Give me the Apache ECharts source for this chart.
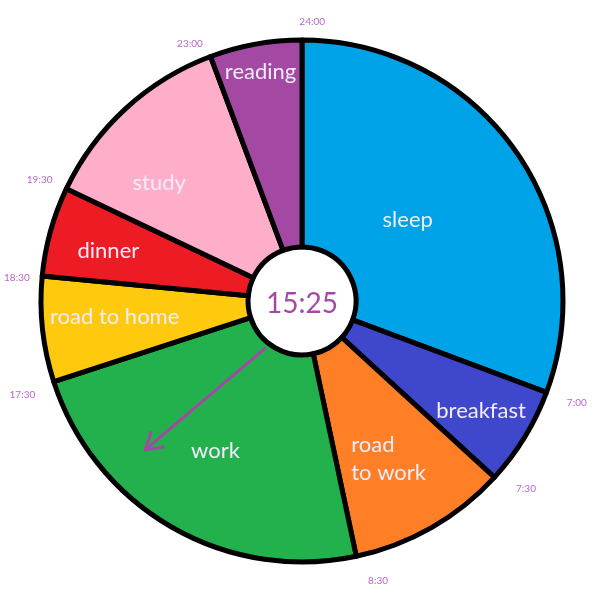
<!DOCTYPE html>
<html><head><meta charset="utf-8">
<script src="https://cdn.jsdelivr.net/npm/echarts@6/dist/echarts.min.js"></script>
<style>html,body{margin:0;padding:0;background:#fff}#c{width:600px;height:601px}</style>
</head><body><div id="c"></div>
<script>
// ---- data ----
const activities = ['sleep', 'breakfast', 'road\nto work', 'work', 'road to home', 'dinner', 'study', 'reading'];
const sliceDegrees = [110.5, 22, 35.5, 84, 23.5, 20, 44, 20.5];
const boundaryLabels = ['7:00', '7:30', '8:30', '17:30', '18:30', '19:30', '23:00', '24:00'];
const currentTime = '15:25';
const handFrom = [60, 218];   // [radius px, angle deg]
const handTo = [216, 226.5];

// ---- styles / layout ----
const sliceColors = ['#00a2e8', '#3f48cc', '#ff7f27', '#22b14c', '#ffc90e', '#ed1c24', '#ffaec9', '#a349a4'];
const labelRadius = [133, 210, 180, 173, 188, 200, 185, 233];
const labelShift = [-2.6, 0, 1, 0, 1.4, -1, -8, 0];
const tickRadius = [293, 292, 290, 295, 286, 289, 281, 279];
const tickShift = [-0.2, -2.6, -3.2, -0.6, -0.9, -0.7, -3, 2.1];
const CX = 302, CY = 301, R = 264, POLAR_R = 300;
const PURPLE = '#a349a4';

const cum = [];
let acc = 0;
sliceDegrees.forEach(v => { cum.push(acc); acc += v; });
const boundaryAngles = sliceDegrees.map((v, i) => cum[i] + v);

const chart = echarts.init(document.getElementById('c'), null, {renderer: 'canvas'});
chart.setOption({
  animation: false,
  backgroundColor: '#fff',
  polar: {center: [CX, CY], radius: POLAR_R},
  angleAxis: {type: 'value', min: 0, max: 360, startAngle: 90, clockwise: true, show: false},
  radiusAxis: {type: 'value', min: 0, max: POLAR_R, show: false},
  graphic: [{
    type: 'text', x: CX, y: CY + 3,
    style: {text: currentTime, fill: PURPLE, font: '28px Lato', align: 'center', verticalAlign: 'middle'},
    z: 100
  }],
  series: [
    {
      type: 'pie',
      center: [CX, CY],
      radius: [54, R - 3],
      startAngle: 90,
      clockwise: true,
      silent: true,
      data: activities.map((n, i) => ({name: n, value: sliceDegrees[i], itemStyle: {color: sliceColors[i]}})),
      itemStyle: {borderColor: '#000', borderWidth: 5},
      label: {show: true, position: 'inside', color: '#f2ecfa', fontFamily: 'Lato', fontSize: 22, lineHeight: 28, formatter: '{b}'},
      labelLine: {show: false},
      labelLayout: function (p) {
        const i = p.dataIndex;
        const mid = cum[i] + sliceDegrees[i] / 2 + labelShift[i];
        const rad = mid * Math.PI / 180;
        const x = CX + labelRadius[i] * Math.sin(rad);
        const y = CY - labelRadius[i] * Math.cos(rad);
        return {x: x - p.labelRect.width / 2, y: y, align: 'left', verticalAlign: 'middle'};
      },
      emphasis: {disabled: true}
    },
    {
      type: 'scatter',
      coordinateSystem: 'polar',
      symbolSize: 1,
      itemStyle: {color: 'rgba(0,0,0,0)'},
      silent: true,
      clip: false,
      data: boundaryAngles.map((a, i) => [tickRadius[i], a + tickShift[i]]),
      label: {
        show: true, position: 'inside', color: '#a33fb8', fontFamily: 'Lato', fontSize: 10,
        formatter: p => boundaryLabels[p.dataIndex]
      }
    },
    {
      type: 'custom',
      coordinateSystem: 'polar',
      silent: true,
      z: 10,
      data: [[handFrom[0], handFrom[1], handTo[0], handTo[1]]],
      renderItem: function (params, api) {
        const p0 = api.coord([api.value(0), api.value(1)]);
        const p1 = api.coord([api.value(2), api.value(3)]);
        const ang = Math.atan2(p1[1] - p0[1], p1[0] - p0[0]);
        const L = 18, s = 0.55;
        const a1 = [p1[0] - L * Math.cos(ang - s), p1[1] - L * Math.sin(ang - s)];
        const a2 = [p1[0] - L * Math.cos(ang + s), p1[1] - L * Math.sin(ang + s)];
        const st = {stroke: PURPLE, lineWidth: 3, fill: null, lineCap: 'round', lineJoin: 'round'};
        return {type: 'group', children: [
          {type: 'line', shape: {x1: p0[0], y1: p0[1], x2: p1[0], y2: p1[1]}, style: st},
          {type: 'polyline', shape: {points: [a1, p1, a2]}, style: st}
        ]};
      }
    }
  ]
});
</script></body></html>
